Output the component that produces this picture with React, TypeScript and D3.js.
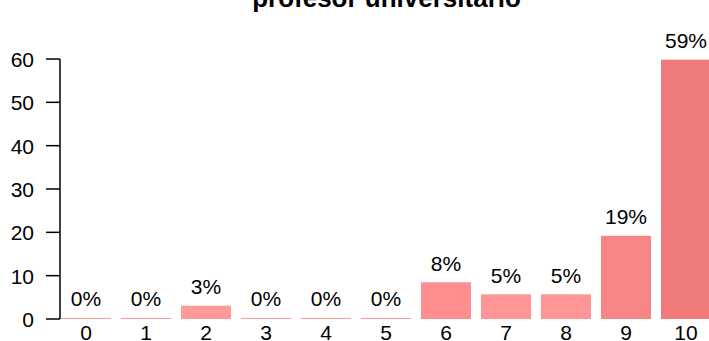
import React from "react";
import * as d3 from "d3";

const categories = ["0", "1", "2", "3", "4", "5", "6", "7", "8", "9", "10"];
const values = [0.25, 0.25, 3.07, 0.25, 0.25, 0.25, 8.47, 5.7, 5.7, 19.2, 59.85];
const percentLabels = ["0%", "0%", "3%", "0%", "0%", "0%", "8%", "5%", "5%", "19%", "59%"];
const yTicks = [0, 10, 20, 30, 40, 50, 60];
const title = "profesor universitario";

const W = 709;
const H = 341;

export default function App() {
  const x = d3
    .scaleBand<string>()
    .domain(categories)
    .range([56, 716])
    .paddingInner(1 / 6)
    .paddingOuter(1 / 12);
  const y = d3.scaleLinear().domain([0, 60]).range([319, 59]);
  const color = d3
    .scaleLinear<string>()
    .domain([0, 3, 6, 8.5, 19, 60])
    .range(["#ff9e9e", "#ff9a9a", "#ff9696", "#ff8d8d", "#f88585", "#f07b7b"])
    .clamp(true);

  const font = "'Liberation Sans', Arial, sans-serif";

  return (
    <svg
      width={W}
      height={H}
      style={{ position: "absolute", left: 0, top: 0, background: "#fff" }}
      fontFamily={font}
    >
      <text x={386.5} y={7} textAnchor="middle" fontSize={26} fontWeight="bold" fill="#000">
        {title}
      </text>
      {categories.map((c, i) => {
        const v = values[i];
        const top = y(v);
        return (
          <g key={c}>
            <rect
              x={x(c)!}
              y={top}
              width={x.bandwidth()}
              height={Math.max(1, y(0) - top)}
              fill={color(v)}
            />
            <text
              x={x(c)! + x.bandwidth() / 2}
              y={top - 11.5}
              textAnchor="middle"
              fontSize={21}
              fill="#000"
            >
              {percentLabels[i]}
            </text>
            <text
              x={x(c)! + x.bandwidth() / 2}
              y={339.5}
              textAnchor="middle"
              fontSize={21}
              fill="#000"
            >
              {c}
            </text>
          </g>
        );
      })}
      <line x1={60} x2={60} y1={y(0)} y2={y(60)} stroke="#000" strokeWidth={1.5} />
      {yTicks.map((t) => (
        <g key={t}>
          <line x1={46} x2={60} y1={y(t)} y2={y(t)} stroke="#000" strokeWidth={1.5} />
          <text x={34} y={y(t) + 8} textAnchor="end" fontSize={21} fill="#000">
            {t}
          </text>
        </g>
      ))}
    </svg>
  );
}
